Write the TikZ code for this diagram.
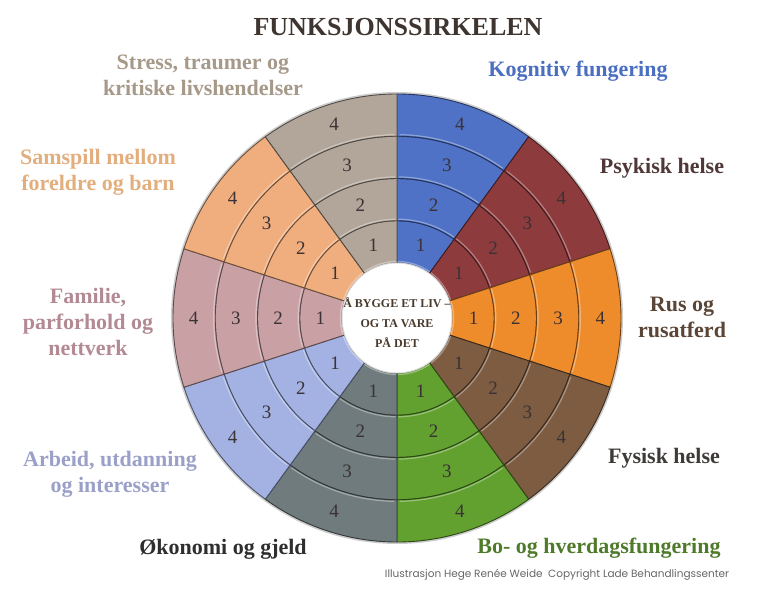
\documentclass[tikz,border=0pt]{standalone}
\usepackage{fontspec}
\setmainfont{Liberation Serif}
\newfontfamily\creditfont{Poppins}
\usetikzlibrary{positioning}
\definecolor{titleink}{HTML}{3F3530}
\definecolor{numink}{HTML}{3A3234}
\definecolor{hubink}{HTML}{4A3A2C}
\definecolor{kogn}{HTML}{4F72C6}
\definecolor{psyk}{HTML}{8E3B3E}
\definecolor{rus}{HTML}{EE8C2C}
\definecolor{fys}{HTML}{7D5C42}
\definecolor{bo}{HTML}{62A02F}
\definecolor{okon}{HTML}{6F7B7C}
\definecolor{arb}{HTML}{A3B2E2}
\definecolor{fam}{HTML}{C9A1A5}
\definecolor{samsp}{HTML}{F0AE7E}
\definecolor{stress}{HTML}{B2A69A}
\definecolor{kognink}{HTML}{4A6FC0}
\definecolor{psykink}{HTML}{503838}
\definecolor{rusink}{HTML}{5B4536}
\definecolor{fysink}{HTML}{3E3A38}
\definecolor{boink}{HTML}{4E7A2A}
\definecolor{okonink}{HTML}{2E2E2E}
\definecolor{arbink}{HTML}{9AA0C8}
\definecolor{famink}{HTML}{B38A94}
\definecolor{samspink}{HTML}{E3AE7D}
\definecolor{stressink}{HTML}{A69989}
\tikzset{
  cell/.style={line width=0.9pt,line join=round},
  bevel/.style={white,opacity=0.35,line width=1.2pt},
  ringnum/.style={font=\fontsize{19}{19}\selectfont,text=numink,inner sep=0pt},
  areatext/.style={align=center,font=\fontsize{22}{26}\selectfont\bfseries},
  hubtext/.style={align=center,font=\fontsize{12}{20}\selectfont\bfseries,text=hubink},
  credit/.style={font=\creditfont\fontsize{10.5}{12}\selectfont,text=black!60}
}

\begin{document}
\begin{tikzpicture}[x=1pt,y=1pt]
  \useasboundingbox (-397,-278) rectangle (371,318);
  % soft rim round the wheel
  \draw[black!20,line width=2pt] (0,0) circle (225);
  % ten sectors, four rings each
  \foreach \i/\col in {0/kogn,1/psyk,2/rus,3/fys,4/bo,5/okon,6/arb,7/fam,8/samsp,9/stress} {
    \pgfmathsetmacro\aend{90-36*\i}
    \pgfmathsetmacro\astart{\aend-36}
    \pgfmathsetmacro\amid{\aend-18}
    \foreach \k in {1,...,4} {
      \pgfmathsetmacro\rin{55+42.25*(\k-1)}
      \pgfmathsetmacro\rout{\rin+42.25}
      \pgfmathsetmacro\rmid{\rin+21.5}
      \filldraw[cell,fill=\col,draw=\col!45!black]
        (\astart:\rin) arc[start angle=\astart,end angle=\aend,radius=\rin]
        -- (\aend:\rout) arc[start angle=\aend,end angle=\astart,radius=\rout] -- cycle;
      \draw[bevel] (\astart+0.8:\rin+1.6) arc[start angle=\astart+0.8,end angle=\aend-0.8,radius=\rin+1.6];
      \node[ringnum] (c\i-\k) at (\amid:\rmid) {\k};
    }
  }
  % hub
  \node[circle,fill=white,draw=black!15,line width=1pt,minimum size=110pt] (hub) at (0,0) {};
  \node[hubtext] (hubtxt) at (0,-5) {Å BYGGE ET LIV –\\OG TA VARE\\PÅ DET};
  % title and area names
  \node[font=\fontsize{26}{30}\selectfont\bfseries,text=titleink] (title) at (1,291) {FUNKSJONSSIRKELEN};
  \node[areatext,text=stressink] (stresslbl) at (-194,243) {Stress, traumer og\\kritiske livshendelser};
  \node[areatext,text=kognink] (kognlbl) at (181,247) {Kognitiv fungering};
  \node[areatext,text=psykink] (psyklbl) at (265,150) {Psykisk helse};
  \node[areatext,text=samspink] (samsplbl) at (-299,146) {Samspill mellom\\foreldre og barn};
  \node[areatext,text=rusink] (ruslbl) at (285,1) {Rus og\\rusatferd};
  \node[areatext,text=famink] (famlbl) at (-309,-4) {Familie,\\parforhold og\\nettverk};
  \node[areatext,text=fysink] (fyslbl) at (267,-140) {Fysisk helse};
  \node[areatext,text=arbink] (arblbl) at (-287,-156) {Arbeid, utdanning\\og interesser};
  \node[areatext,text=okonink] (okonlbl) at (-174,-231) {Økonomi og gjeld};
  \node[areatext,text=boink] (bolbl) at (202,-230) {Bo- og hverdagsfungering};
  \node[credit] (creditline) at (160,-257) {Illustrasjon Hege Renée Weide\ \ Copyright Lade Behandlingssenter};
\end{tikzpicture}
\end{document}
